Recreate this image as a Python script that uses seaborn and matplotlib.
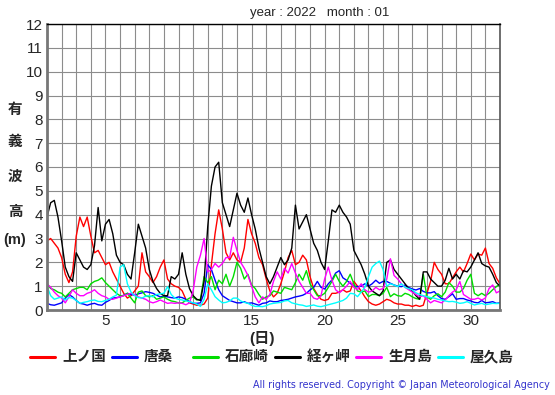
import numpy as np
import pandas as pd
import matplotlib
matplotlib.use("Agg")
import matplotlib.pyplot as plt
import seaborn as sns
from matplotlib.lines import Line2D

# 6-hourly significant wave height (m), January 2022
days = np.arange(1, 32.01, 0.25)

kaminokuni = [2.9, 3.0, 2.8, 2.6, 2.2, 1.5, 1.15, 1.6, 3.1, 3.9, 3.5, 3.9, 3.1, 2.4, 2.5, 2.2,
              1.9, 2.0, 1.6, 1.3, 1.0, 0.7, 0.5, 0.6, 0.8, 1.0, 2.4, 1.6, 1.4, 1.15, 1.4, 1.8,
              2.1, 1.3, 1.1, 1.0, 0.95, 0.8, 0.45, 0.3, 0.25, 0.2, 0.2, 0.25, 0.5, 1.9, 3.2, 4.2,
              3.4, 2.4, 2.1, 2.4, 2.1, 2.0, 2.6, 3.8, 3.2, 2.8, 2.2, 1.9, 1.3, 0.8, 0.55, 0.7,
              1.1, 1.6, 2.2, 2.5, 1.9, 2.0, 2.3, 2.1, 1.4, 0.9, 0.65, 0.45, 0.4, 0.45, 0.7, 0.7,
              0.75, 0.85, 0.75, 0.8, 1.2, 1.0, 0.8, 0.55, 0.35, 0.25, 0.2, 0.25, 0.35, 0.45, 0.4, 0.3,
              0.25, 0.25, 0.2, 0.2, 0.15, 0.2, 0.15, 0.2, 0.7, 1.2, 2.0, 1.7, 1.5, 1.1, 1.1, 1.35,
              1.6, 1.8, 1.6, 1.95, 2.35, 2.1, 2.35, 2.3, 2.6, 1.95, 1.75, 1.35, 1.1]
karakuwa = [0.28, 0.22, 0.2, 0.25, 0.3, 0.5, 0.65, 0.55, 0.4, 0.28, 0.25, 0.2, 0.25, 0.28, 0.22, 0.2,
            0.32, 0.4, 0.5, 0.52, 0.55, 0.62, 0.7, 0.65, 0.62, 0.68, 0.72, 0.77, 0.74, 0.7, 0.62, 0.55,
            0.58, 0.55, 0.52, 0.5, 0.55, 0.52, 0.45, 0.35, 0.28, 0.28, 0.3, 0.7, 1.9, 1.7, 1.25, 0.85,
            0.6, 0.5, 0.4, 0.35, 0.3, 0.3, 0.35, 0.28, 0.3, 0.25, 0.2, 0.28, 0.3, 0.38, 0.35, 0.35,
            0.4, 0.42, 0.45, 0.5, 0.55, 0.58, 0.62, 0.7, 0.84, 0.95, 1.2, 0.95, 0.88, 1.1, 1.26, 1.55,
            1.65, 1.35, 1.25, 1.12, 1.0, 0.98, 1.0, 1.1, 1.0, 1.1, 1.25, 1.12, 1.2, 1.2, 1.12, 1.05,
            1.0, 0.98, 1.05, 0.95, 0.88, 0.84, 0.9, 0.78, 0.72, 0.72, 0.77, 0.6, 0.48, 0.45, 0.56, 0.68,
            0.45, 0.48, 0.48, 0.42, 0.38, 0.32, 0.3, 0.4, 0.3, 0.32, 0.35, 0.28, 0.3]
irozaki = [1.1, 0.9, 0.85, 0.75, 0.7, 0.55, 0.7, 0.85, 0.9, 0.95, 0.95, 0.85, 1.1, 1.2, 1.25, 1.35,
           1.15, 1.0, 0.85, 0.7, 0.6, 0.6, 0.7, 0.5, 0.3, 0.75, 0.8, 0.6, 0.55, 0.6, 0.45, 0.5,
           0.55, 0.45, 0.38, 0.35, 0.3, 0.3, 0.4, 0.5, 0.55, 0.42, 0.45, 1.4, 1.15, 1.4, 0.85, 1.25,
           1.1, 1.5, 1.0, 1.4, 2.0, 1.75, 1.3, 1.5, 1.05, 0.9, 0.65, 0.45, 0.55, 0.6, 0.8, 0.75,
           0.7, 0.95, 0.9, 0.85, 1.15, 1.5, 1.25, 1.65, 1.1, 0.85, 0.6, 0.6, 0.7, 0.95, 1.2, 1.5,
           1.2, 1.0, 1.2, 1.5, 1.1, 0.8, 0.75, 0.8, 0.56, 0.65, 0.65, 0.6, 0.7, 0.95, 0.56, 0.68,
           0.6, 0.58, 0.7, 0.65, 0.55, 0.48, 0.45, 1.5, 0.55, 0.45, 0.6, 0.68, 0.56, 0.75, 1.15, 1.0,
           0.75, 0.75, 0.9, 1.25, 1.5, 0.7, 0.6, 0.7, 0.6, 0.7, 0.85, 0.98, 1.1]
kyogamisaki = [3.9, 4.5, 4.6, 3.9, 2.9, 1.8, 1.4, 1.2, 2.4, 2.1, 1.8, 1.7, 1.9, 2.7, 4.3, 2.9,
               3.6, 3.8, 3.2, 2.3, 2.0, 1.9, 1.5, 1.3, 2.4, 3.6, 3.1, 2.6, 1.7, 1.2, 0.9, 0.7,
               0.6, 0.6, 1.4, 1.3, 1.5, 2.4, 1.5, 0.9, 0.6, 0.45, 0.4, 1.2, 3.5, 5.2, 6.0, 6.2,
               4.5, 4.0, 3.5, 4.2, 4.9, 4.4, 4.1, 4.7, 4.0, 3.4, 2.6, 2.0, 1.4, 1.1, 1.4, 1.8,
               2.2, 1.9, 2.1, 2.6, 4.4, 3.4, 3.7, 4.0, 3.4, 2.8, 2.5, 2.0, 1.7, 2.9, 4.2, 4.1,
               4.4, 4.1, 3.9, 3.6, 2.5, 2.2, 1.9, 1.5, 1.0, 0.8, 0.7, 0.6, 0.8, 2.0, 2.1, 1.7,
               1.5, 1.3, 1.1, 0.9, 0.8, 0.6, 0.45, 1.6, 1.6, 1.3, 1.15, 1.0, 1.0, 1.25, 1.75, 1.3,
               1.5, 1.3, 1.65, 1.6, 1.8, 2.1, 2.4, 1.95, 1.85, 1.8, 1.5, 1.15, 1.0]
ikitsukishima = [1.1, 0.95, 0.75, 0.6, 0.5, 0.3, 0.55, 0.85, 0.7, 0.6, 0.6, 0.7, 0.75, 0.85, 0.7, 0.6,
                 0.55, 0.45, 0.45, 0.5, 0.55, 0.6, 0.65, 0.7, 0.65, 0.55, 0.5, 0.45, 0.35, 0.3, 0.35, 0.42,
                 0.35, 0.28, 0.3, 0.28, 0.3, 0.28, 0.22, 0.3, 0.8, 1.8, 2.3, 3.0, 1.6, 1.7, 1.95, 1.8,
                 1.95, 2.2, 2.2, 3.05, 2.5, 2.0, 1.75, 1.45, 1.0, 0.55, 0.3, 0.55, 0.45, 0.65, 1.2, 1.6,
                 1.3, 1.75, 1.55, 1.95, 1.55, 1.2, 0.95, 0.7, 0.7, 0.5, 0.45, 0.6, 1.3, 1.8, 1.25, 0.85,
                 0.72, 0.85, 1.0, 1.2, 0.95, 0.85, 1.1, 0.85, 0.75, 0.8, 0.95, 0.85, 0.9, 1.3, 2.15, 1.45,
                 1.3, 1.1, 0.95, 0.85, 0.75, 0.65, 0.56, 0.6, 0.45, 0.3, 0.4, 0.35, 0.3, 0.42, 0.6, 0.75,
                 0.85, 1.2, 0.65, 0.55, 0.45, 0.45, 0.5, 0.42, 0.5, 0.9, 1.05, 0.72, 0.8]
yakushima = [1.0, 0.6, 0.45, 0.5, 0.55, 0.42, 0.52, 0.5, 0.4, 0.28, 0.32, 0.35, 0.4, 0.42, 0.36, 0.35,
             0.4, 0.45, 0.55, 0.62, 1.8, 1.9, 1.1, 0.75, 0.6, 0.52, 0.5, 0.58, 0.6, 0.55, 0.65, 0.68,
             0.7, 0.98, 0.65, 0.5, 0.45, 0.42, 0.38, 0.35, 0.3, 0.25, 0.15, 0.45, 1.1, 0.85, 0.56, 0.42,
             0.3, 0.32, 0.38, 0.5, 0.5, 0.38, 0.32, 0.28, 0.2, 0.15, 0.15, 0.14, 0.18, 0.25, 0.28, 0.3,
             0.32, 0.38, 0.4, 0.3, 0.26, 0.22, 0.2, 0.15, 0.18, 0.21, 0.16, 0.14, 0.18, 0.22, 0.26, 0.3,
             0.35, 0.4, 0.5, 0.7, 0.68, 0.56, 0.75, 0.95, 1.4, 1.8, 1.95, 2.05, 1.7, 1.0, 1.1, 1.05,
             0.98, 1.1, 0.95, 0.9, 0.84, 0.72, 0.65, 0.6, 0.56, 0.52, 0.5, 0.45, 0.42, 0.38, 0.35, 0.36,
             0.33, 0.28, 0.3, 0.35, 0.28, 0.21, 0.25, 0.28, 0.22, 0.25, 0.28, 0.27, 0.28]

stations = ["上ノ国", "唐桑", "石廊崎", "経ヶ岬", "生月島", "屋久島"]
colors = ["#ff0000", "#0000ff", "#00dd00", "#000000", "#ff00ff", "#00ffff"]
series = [kaminokuni, karakuwa, irozaki, kyogamisaki, ikitsukishima, yakushima]

frames = []
for name, vals in zip(stations, series):
    frames.append(pd.DataFrame({"day": days, "height": vals, "station": name}))
df = pd.concat(frames, ignore_index=True)

sns.set_style("white")
plt.rcParams["font.family"] = ["Liberation Sans", "Noto Sans CJK JP", "DejaVu Sans"]

fig = plt.figure(figsize=(5.55, 3.95), dpi=100)
ax = fig.add_axes([47 / 555, 1 - 310 / 395, 453 / 555, 286 / 395])

sns.lineplot(data=df, x="day", y="height", hue="station", hue_order=stations,
             palette=dict(zip(stations, colors)), estimator=None, linewidth=1.0,
             legend=False, ax=ax)

ax.set_xlim(1, 32)
ax.set_ylim(0, 12)
ax.set_xticks(np.arange(1, 33), minor=True)
ax.set_xticks([5, 10, 15, 20, 25, 30])
ax.set_yticks(np.arange(0, 13))
ax.grid(True, which="both", color="#8c8c8c", linewidth=0.8)
ax.set_axisbelow(True)
ax.tick_params(axis="both", which="both", length=0, labelsize=11, pad=3)
ax.set_xlabel("")
ax.set_ylabel("")
for side in ["left", "bottom"]:
    ax.spines[side].set_color("#777777")
    ax.spines[side].set_linewidth(2)
ax.spines["right"].set_color("#555555")
ax.spines["right"].set_linewidth(1.2)
ax.spines["top"].set_color("#000000")
ax.spines["top"].set_linewidth(1.0)

fig.text(250 / 555, 1 - 13 / 395, "year : 2022   month : 01", fontsize=9.5, va="center", ha="left")

# vertical y label
for ch, yp in zip(["有", "義", "波", "高", "(m)"], [110, 142, 177, 212, 240]):
    fig.text(15 / 555, 1 - yp / 395, ch, fontsize=10.5, fontweight="bold", ha="center", va="center")
fig.text(262 / 555, 1 - 338 / 395, "(日)", fontsize=11, fontweight="bold", ha="center", va="center")

# legend row
for i, (name, c) in enumerate(zip(stations, colors)):
    x0 = (30 + i * 81.6) / 555
    yl = 1 - 357 / 395
    fig.add_artist(Line2D([x0, x0 + 25 / 555], [yl, yl], color=c, linewidth=2.2))
    fig.text(x0 + 32 / 555, yl, name, fontsize=10.5, fontweight="bold", ha="left", va="center")

fig.text(550 / 555, 1 - 385 / 395, "All rights reserved. Copyright © Japan Meteorological Agency",
         fontsize=6.9, family="DejaVu Sans", color="#3333cc", ha="right", va="center")

fig.savefig("out.png", dpi=100)
